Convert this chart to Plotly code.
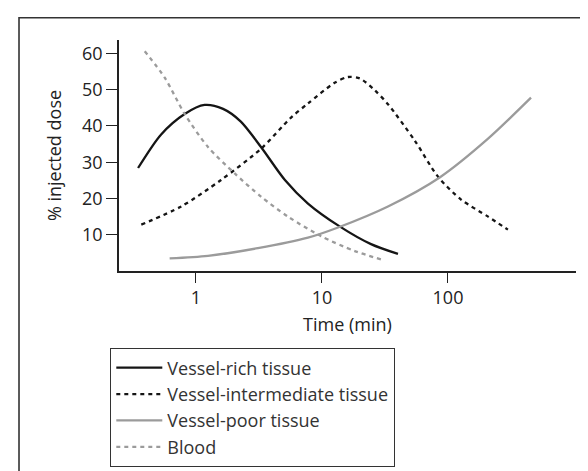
import plotly.graph_objects as go

# time (min) and % injected dose
rich_t = [0.347, 0.527, 0.813, 1.17, 1.64, 2.27, 3.28, 5.08, 7.74, 13.8, 24.5, 40.1]
rich_v = [28.4, 37.6, 43.3, 45.8, 44.7, 41.2, 34.2, 25.1, 18.6, 12.3, 7.4, 4.7]

inter_t = [0.368, 0.764, 1.58, 3.28, 5.68, 7.74, 12.6, 16.1, 20.0, 26.3, 33.4, 54.4, 83.4, 127, 208, 299]
inter_v = [12.8, 17.8, 25.1, 33.7, 42.3, 46.2, 51.9, 53.5, 53.1, 49.8, 46.0, 36.0, 26.0, 19.7, 15.0, 11.4]

poor_t = [0.618, 1.245, 3.10, 7.74, 13.4, 33.4, 85.9, 208, 456]
poor_v = [3.5, 4.2, 6.3, 9.2, 12.0, 17.8, 25.8, 36.5, 47.8]

blood_t = [0.392, 0.565, 0.813, 1.245, 2.03, 3.28, 5.37, 9.82, 18.2, 29.4]
blood_v = [60.6, 53.3, 43.3, 34.2, 26.9, 20.5, 15.0, 9.6, 5.5, 3.2]

x_ticks = [1, 10, 100]
y_ticks = [10, 20, 30, 40, 50, 60]

FONT = "Open Sans"
BLACK = "#151515"
GREY = "#9b9b9b"

fig = go.Figure()
series = [
    ("Vessel-rich tissue", rich_t, rich_v, BLACK, "solid"),
    ("Vessel-intermediate tissue", inter_t, inter_v, BLACK, "4px,4px"),
    ("Vessel-poor tissue", poor_t, poor_v, GREY, "solid"),
    ("Blood", blood_t, blood_v, GREY, "4px,4px"),
]
for name, t, v, col, dash in series:
    fig.add_trace(go.Scatter(x=t, y=v, name=name, mode="lines",
                             line=dict(color=col, width=2.3, dash=dash, shape="spline", smoothing=0.8)))

fig.update_layout(
    width=588, height=471,
    margin=dict(l=111, r=20, t=32, b=206),
    paper_bgcolor="white", plot_bgcolor="white",
    font=dict(family=FONT, size=18, color="#222"),
    showlegend=True,
    legend=dict(x=-0.0197, y=-0.334, xanchor="left", yanchor="top",
                bordercolor="#333", borderwidth=1.3, bgcolor="white",
                font=dict(size=18, color="#333"), tracegroupgap=0,
                itemwidth=46),
)
fig.update_xaxes(type="log", range=[-0.611, 3.016], tickvals=x_ticks, ticktext=[str(v) for v in x_ticks],
                 showgrid=False, zeroline=False, showline=True, linecolor="#222", linewidth=1.5,
                 ticks="outside", ticklen=10, tickwidth=1, tickcolor="#222",
                 tickfont=dict(size=18),
                 title=dict(text="Time (min)", standoff=10, font=dict(size=18)))
fig.update_yaxes(range=[0, 63.7], tickvals=y_ticks, showgrid=False, zeroline=False,
                 showline=True, linecolor="#222", linewidth=1.5,
                 ticks="outside", ticklen=11, tickwidth=1, tickcolor="#222",
                 tickfont=dict(size=18),
                 title=dict(text="% injected dose", standoff=16, font=dict(size=18)))

# outer frame of the figure (only top and left edges fall inside the picture)
fig.add_shape(type="rect", xref="paper", yref="paper", x0=-0.2188, x1=1.3, y0=-1.5, y1=1.096,
              line=dict(color="#333", width=1.6), layer="below")

fig.write_html("out.html")
